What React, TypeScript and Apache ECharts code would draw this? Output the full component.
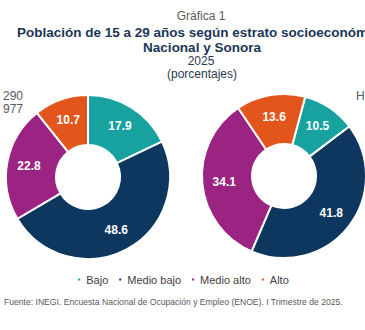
import React, { useEffect, useRef } from "react";
import * as echarts from "echarts";

const categories = ["Bajo", "Medio bajo", "Medio alto", "Alto"];
const nacionalValues = [17.9, 48.6, 22.8, 10.7];
const sonoraValues = [10.5, 41.8, 34.1, 13.6];
const colors = ["#17A2A0", "#0E3760", "#9B2482", "#E2561C"];

const FONT = "'Liberation Sans', Arial, sans-serif";

export default function App() {
  const ref = useRef<HTMLDivElement>(null);
  useEffect(() => {
    if (!ref.current) return;
    const chart = echarts.init(ref.current, null, { renderer: "svg" });
    const mk = (vals: number[]) =>
      categories.map((c, i) => ({ name: c, value: vals[i], itemStyle: { color: colors[i] } }));
    const pieBase = {
      type: "pie" as const,
      radius: [32, 82],
      clockwise: true,
      itemStyle: { borderColor: "#fff", borderWidth: 2 },
      label: {
        show: true,
        position: "inside",
        color: "#fff",
        fontWeight: "bold",
        fontSize: 12,
        fontFamily: FONT,
        formatter: (p: any) => p.value.toFixed(1),
      },
      labelLine: { show: false },
      emphasis: { disabled: true },
    };
    chart.setOption({
      animation: false,
      backgroundColor: "#fff",
      textStyle: { fontFamily: FONT },
      legend: {
        data: categories,
        top: 269,
        left: "center",
        icon: "rect",
        itemWidth: 4,
        itemHeight: 4,
        itemGap: 9,
        textStyle: { color: "#404040", fontSize: 11, fontFamily: FONT },
      },
      series: [
        { ...pieBase, name: "Nacional", center: [88, 177], startAngle: 90, data: mk(nacionalValues) },
        { ...pieBase, name: "Sonora", center: [284, 176], startAngle: 75, data: mk(sonoraValues) },
      ],
      graphic: [
        { type: "text", x: 201, y: 16, style: { text: "Gráfica 1", fill: "#595959", fontSize: 12, fontFamily: FONT, align: "center", verticalAlign: "middle" } },
        { type: "text", x: 17, y: 32, style: { text: "Población de 15 a 29 años según estrato socioeconómico,", fill: "#1B3556", fontSize: 13.5, fontWeight: "bold", fontFamily: FONT, align: "left", verticalAlign: "middle" } },
        { type: "text", x: 202, y: 47, style: { text: "Nacional y Sonora", fill: "#1B3556", fontSize: 13.5, fontWeight: "bold", fontFamily: FONT, align: "center", verticalAlign: "middle" } },
        { type: "text", x: 201, y: 61, style: { text: "2025", fill: "#2A3A52", fontSize: 12, fontFamily: FONT, align: "center", verticalAlign: "middle" } },
        { type: "text", x: 202, y: 74, style: { text: "(porcentajes)", fill: "#2A3A52", fontSize: 12, fontFamily: FONT, align: "center", verticalAlign: "middle" } },
        { type: "text", x: 3, y: 96, style: { text: "290", fill: "#595959", fontSize: 12, fontFamily: FONT, verticalAlign: "middle" } },
        { type: "text", x: 3, y: 109, style: { text: "977", fill: "#595959", fontSize: 12, fontFamily: FONT, verticalAlign: "middle" } },
        { type: "text", x: 356, y: 96, style: { text: "H", fill: "#595959", fontSize: 12, fontFamily: FONT, verticalAlign: "middle" } },
        { type: "text", x: 4, y: 302, style: { text: "Fuente: INEGI. Encuesta Nacional de Ocupación y Empleo (ENOE). I Trimestre de 2025.", fill: "#595959", fontSize: 8.6, fontFamily: FONT, verticalAlign: "middle" } },
      ],
    });
    return () => chart.dispose();
  }, []);
  return <div ref={ref} style={{ position: "fixed", left: 0, top: 0, width: 365, height: 330 }} />;
}
